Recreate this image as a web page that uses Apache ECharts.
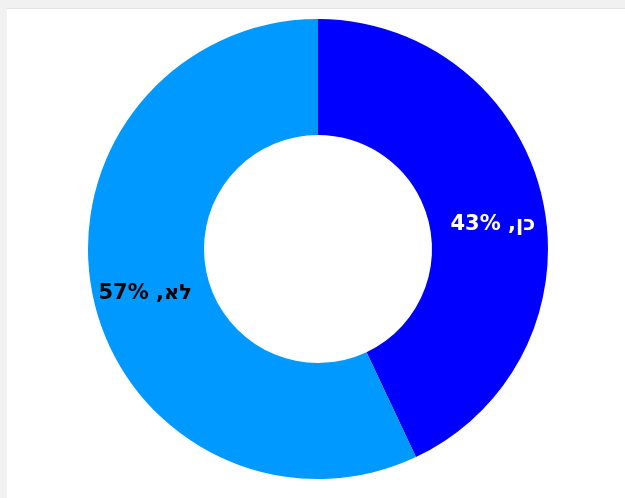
<!DOCTYPE html>
<html>
<head>
<meta charset="utf-8">
<script src="https://cdn.jsdelivr.net/npm/echarts@6/dist/echarts.min.js"></script>
<style>
  body { margin: 0; background: #f1f1f1; }
  #chart {
    position: absolute; left: 7px; top: 8px; width: 618px; height: 490px;
    background: #fff; border-top: 1px solid #e3e3e3; box-sizing: border-box;
    direction: rtl;
  }
</style>
</head>
<body>
<div id="chart"></div>
<script>
  var names = ['כן', 'לא'];
  var values = [43, 57];
  var colors = ['#0000ff', '#0099ff'];
  var labelColors = ['#ffffff', '#000000'];
  var labelShift = [[4, 14], [-2, 6]];

  var data = [];
  for (var i = 0; i < names.length; i++) {
    data.push({
      name: names[i],
      value: values[i],
      itemStyle: { color: colors[i] },
      label: { color: labelColors[i], offset: labelShift[i] }
    });
  }

  var myChart = echarts.init(document.getElementById('chart'));
  var option = {
    animation: false,
    series: [{
      type: 'pie',
      center: [311, 240],
      radius: [114, 230],
      startAngle: 90,
      clockwise: true,
      silent: true,
      data: data,
      label: {
        show: true,
        position: 'inside',
        formatter: '{b}, {d}%',
        fontFamily: 'DejaVu Sans',
        fontWeight: 'bold',
        fontSize: 21
      },
      labelLine: { show: false }
    }]
  };
  myChart.setOption(option);
</script>
</body>
</html>
